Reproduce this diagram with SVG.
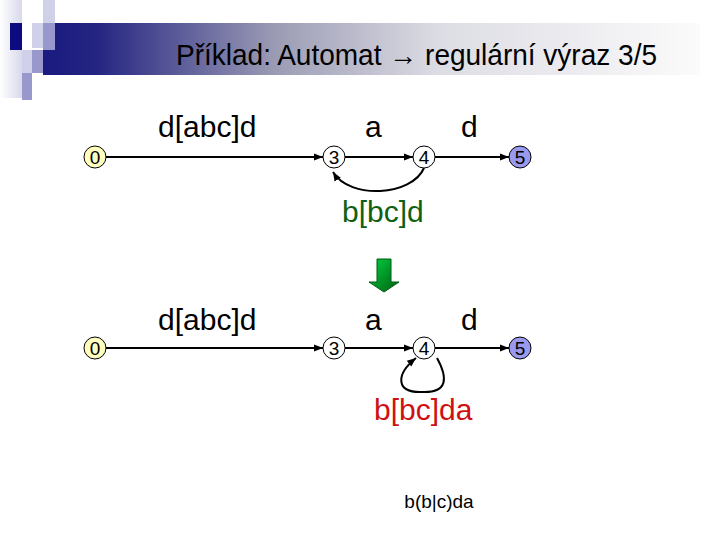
<svg xmlns="http://www.w3.org/2000/svg" width="720" height="540" viewBox="0 0 720 540">
  <defs>
    <linearGradient id="titleGrad" x1="0" y1="0" x2="1" y2="0">
      <stop offset="0" stop-color="#1a1a80"/>
      <stop offset="0.08" stop-color="#242482"/>
      <stop offset="0.35" stop-color="#9a9ab4"/>
      <stop offset="0.6" stop-color="#dcdce4"/>
      <stop offset="1" stop-color="#fbfbfb"/>
    </linearGradient>
    <linearGradient id="leftGrad" x1="0" y1="0" x2="1" y2="0">
      <stop offset="0" stop-color="#ffffff"/>
      <stop offset="1" stop-color="#d8d8ec"/>
    </linearGradient>
    <linearGradient id="arrowGrad" x1="0" y1="0" x2="1" y2="1">
      <stop offset="0" stop-color="#00d040"/>
      <stop offset="1" stop-color="#006010"/>
    </linearGradient>
    <marker id="ah" viewBox="0 0 10 10" refX="10" refY="5" markerWidth="9" markerHeight="9" markerUnits="userSpaceOnUse" orient="auto">
      <path d="M0,1 L10,5 L0,9 Z" fill="#000"/>
    </marker>
    <style>
      .lbl { font-family: "Liberation Sans", Arial, sans-serif; font-size: 30px; fill: #000; }
      .st { font-family: "Liberation Sans", Arial, sans-serif; font-size: 19px; fill: #000; text-anchor: middle; }
      .node { stroke: #000; stroke-width: 1; }
      .plain { fill: #fff; }
      .start { fill: #ffffc0; }
      .final { fill: #9999ee; }
      .edge { fill: none; stroke: #000; stroke-width: 2; marker-end: url(#ah); }
    </style>
  </defs>

  <!-- header decoration -->
  <g id="header">
    <rect x="0" y="0" width="22" height="98" fill="url(#leftGrad)"/>
    <rect x="43" y="23" width="657" height="52" fill="url(#titleGrad)"/>
    <rect x="43" y="0" width="12" height="23" fill="#d0d0e8"/>
    <rect x="10" y="23" width="12" height="27" fill="#0c0c80"/>
    <rect x="32" y="23" width="11" height="25" fill="#d0d0e8"/>
    <rect x="43" y="23" width="12" height="27" fill="#9898cc"/>
    <rect x="22" y="50" width="10" height="23" fill="#d0d0e8"/>
    <rect x="32" y="50" width="11" height="23" fill="#9898cc"/>
    <rect x="22" y="73" width="10" height="27" fill="#9898cc"/>
    <text x="176" y="65" textLength="481" lengthAdjust="spacingAndGlyphs" font-family="'Liberation Sans', Arial, sans-serif" font-size="29" fill="#000">Příklad: Automat → regulární výraz 3/5</text>
  </g>

  <!-- connectors -->
  <g id="connectors">
    <line class="edge" x1="106" y1="157" x2="323" y2="157"/>
    <line class="edge" x1="345" y1="157" x2="413" y2="157"/>
    <line class="edge" x1="435" y1="157" x2="509" y2="157"/>
    <path class="edge" d="M424,168 C412,196 350,200 333,172"/>
    <line class="edge" x1="106" y1="348" x2="323" y2="348"/>
    <line class="edge" x1="345" y1="348" x2="413" y2="348"/>
    <line class="edge" x1="435" y1="348" x2="509" y2="348"/>
    <path class="edge" d="M437,358 C448,378 448,393 422,392 C396,393 395,375 416,358"/>
  </g>

  <!-- top automaton -->
  <g id="top-n0"><circle class="node start" cx="95" cy="157" r="11"/><text class="st" x="95" y="164">0</text></g>
  <g id="top-n3"><circle class="node plain" cx="334" cy="157" r="11"/><text class="st" x="334" y="164">3</text></g>
  <g id="top-n4"><circle class="node plain" cx="424" cy="157" r="11"/><text class="st" x="424" y="164">4</text></g>
  <g id="top-n5"><circle class="node final" cx="520" cy="157" r="11"/><text class="st" x="520" y="164">5</text></g>
  <g id="top-labels">
    <text class="lbl" x="158" y="137">d[abc]d</text>
    <text class="lbl" x="365" y="137">a</text>
    <text class="lbl" x="461" y="137">d</text>
    <text class="lbl" x="342" y="222" style="fill:#106010">b[bc]d</text>
  </g>

  <!-- transformation arrow -->
  <g id="down-arrow">
    <path d="M377,259 L391,259 L391,282 L399,282 L384,292 L369,282 L377,282 Z" fill="url(#arrowGrad)" stroke="#005a10" stroke-width="1"/>
  </g>

  <!-- bottom automaton -->
  <g id="bot-n0"><circle class="node start" cx="95" cy="348" r="11"/><text class="st" x="95" y="355">0</text></g>
  <g id="bot-n3"><circle class="node plain" cx="334" cy="348" r="11"/><text class="st" x="334" y="355">3</text></g>
  <g id="bot-n4"><circle class="node plain" cx="424" cy="348" r="11"/><text class="st" x="424" y="355">4</text></g>
  <g id="bot-n5"><circle class="node final" cx="520" cy="348" r="11"/><text class="st" x="520" y="355">5</text></g>
  <g id="bot-labels">
    <text class="lbl" x="158" y="330">d[abc]d</text>
    <text class="lbl" x="365" y="330">a</text>
    <text class="lbl" x="461" y="330">d</text>
    <text class="lbl" x="374" y="420" style="fill:#d01010">b[bc]da</text>
  </g>

  <g id="result">
    <text x="439" y="508" text-anchor="middle" font-family="'Liberation Sans', Arial, sans-serif" font-size="19" fill="#000">b(b|c)da</text>
  </g>
</svg>
